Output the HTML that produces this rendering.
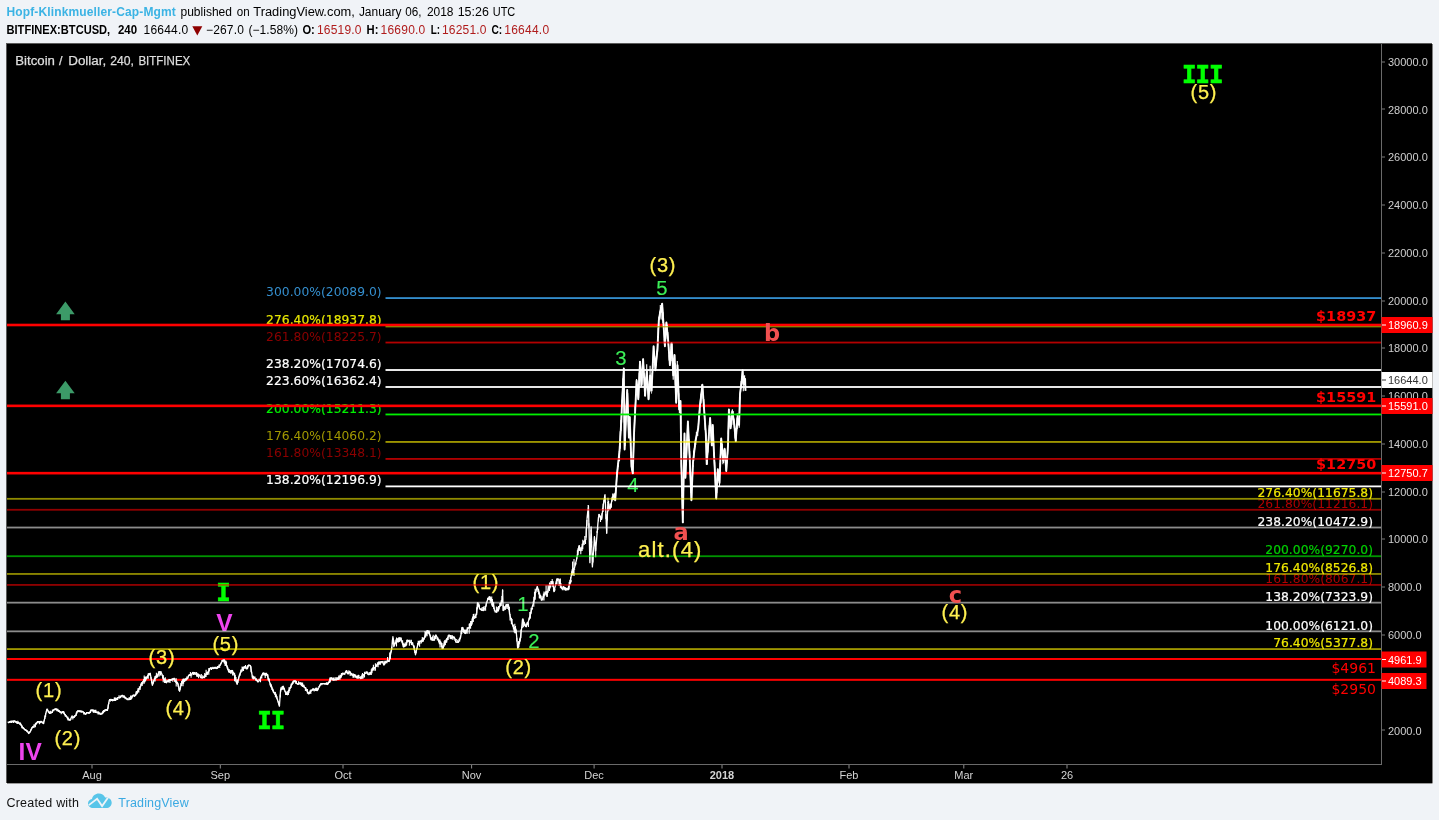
<!DOCTYPE html>
<html lang="en"><head><meta charset="utf-8"><title>BTCUSD chart</title>
<style>
html,body{margin:0;padding:0}
body{width:1439px;height:820px;background:#f0f3f7;position:relative;overflow:hidden;font-family:"Liberation Sans",Arial,sans-serif;color:#000}
svg text{white-space:pre}
</style></head><body>
<svg width="1439" height="820" viewBox="0 0 1439 820" style="position:absolute;left:0;top:0"><rect x="6" y="43" width="1427" height="741" fill="#fff"/><rect x="6" y="43" width="1426" height="740" fill="#5a5a5a"/><rect x="7" y="44" width="1425.5" height="739.4" fill="#000"/><text x="266.1" y="296.2" font-size="12.3" font-family="DejaVu Sans, Verdana, sans-serif" fill="#3590d0" textLength="115.5">300.00%(20089.0)</text><text x="266.1" y="323.7" font-size="12.3" font-family="DejaVu Sans, Verdana, sans-serif" fill="#e6e600" stroke="#e6e600" stroke-width="0.2" textLength="115.5">276.40%(18937.8)</text><text x="266.1" y="340.6" font-size="12.3" font-family="DejaVu Sans, Verdana, sans-serif" fill="#8c0000" textLength="115.5">261.80%(18225.7)</text><text x="266.1" y="368.1" font-size="12.3" font-family="DejaVu Sans, Verdana, sans-serif" fill="#ffffff" stroke="#ffffff" stroke-width="0.2" textLength="115.5">238.20%(17074.6)</text><text x="266.1" y="385.1" font-size="12.3" font-family="DejaVu Sans, Verdana, sans-serif" fill="#ffffff" stroke="#ffffff" stroke-width="0.2" textLength="115.5">223.60%(16362.4)</text><text x="266.1" y="412.6" font-size="12.3" font-family="DejaVu Sans, Verdana, sans-serif" fill="#00f000" stroke="#00f000" stroke-width="0.2" textLength="115.5">200.00%(15211.3)</text><text x="266.1" y="440.0" font-size="12.3" font-family="DejaVu Sans, Verdana, sans-serif" fill="#a39a00" textLength="115.5">176.40%(14060.2)</text><text x="266.1" y="457.0" font-size="12.3" font-family="DejaVu Sans, Verdana, sans-serif" fill="#8c0000" textLength="115.5">161.80%(13348.1)</text><text x="266.1" y="483.7" font-size="12.3" font-family="DejaVu Sans, Verdana, sans-serif" fill="#ffffff" stroke="#ffffff" stroke-width="0.2" textLength="115.5">138.20%(12196.9)</text><text x="1257.5" y="497.0" font-size="12.3" font-family="DejaVu Sans, Verdana, sans-serif" fill="#f0e800" stroke="#f0e800" stroke-width="0.2" textLength="115.5">276.40%(11675.8)</text><text x="1257.5" y="508.0" font-size="12.3" font-family="DejaVu Sans, Verdana, sans-serif" fill="#b00000" textLength="115.5">261.80%(11216.1)</text><text x="1257.5" y="525.7" font-size="12.3" font-family="DejaVu Sans, Verdana, sans-serif" fill="#ffffff" stroke="#ffffff" stroke-width="0.2" textLength="115.5">238.20%(10472.9)</text><text x="1265.3" y="554.4" font-size="12.3" font-family="DejaVu Sans, Verdana, sans-serif" fill="#00d000" stroke="#00d000" stroke-width="0.2" textLength="107.7">200.00%(9270.0)</text><text x="1265.3" y="572.1" font-size="12.3" font-family="DejaVu Sans, Verdana, sans-serif" fill="#f0e800" stroke="#f0e800" stroke-width="0.2" textLength="107.7">176.40%(8526.8)</text><text x="1265.3" y="583.1" font-size="12.3" font-family="DejaVu Sans, Verdana, sans-serif" fill="#b00000" textLength="107.7">161.80%(8067.1)</text><text x="1265.3" y="600.8" font-size="12.3" font-family="DejaVu Sans, Verdana, sans-serif" fill="#ffffff" stroke="#ffffff" stroke-width="0.2" textLength="107.7">138.20%(7323.9)</text><text x="1265.3" y="629.5" font-size="12.3" font-family="DejaVu Sans, Verdana, sans-serif" fill="#ffffff" stroke="#ffffff" stroke-width="0.2" textLength="107.7">100.00%(6121.0)</text><text x="1273.2" y="647.3" font-size="12.3" font-family="DejaVu Sans, Verdana, sans-serif" fill="#f0e800" stroke="#f0e800" stroke-width="0.2" textLength="99.8">76.40%(5377.8)</text><rect x="7" y="323.70" width="1374" height="2.6" fill="#ff0000"/><rect x="7" y="404.55" width="1374" height="2.6" fill="#ff0000"/><rect x="7" y="471.87" width="1374" height="2.6" fill="#ff0000"/><rect x="7" y="658.00" width="1374" height="2" fill="#ff0000"/><rect x="7" y="678.82" width="1374" height="2" fill="#ff0000"/><polyline points="8.2,722.8 10.5,721.6 12.8,721.4 14.8,720.9 16.8,722.8 18.8,722.8 20.5,723.6 22.2,726.9 23.9,728.8 25.5,730.0 27.1,730.8 28.7,733.5 30.5,731.1 32.3,727.4 34.1,726.2 35.8,724.5 37.6,721.9 39.3,721.6 41.4,721.4 43.5,723.6 45.2,716.1 46.9,709.1 49.5,713.4 51.6,712.5 53.8,709.6 55.7,708.8 57.6,709.6 59.4,711.3 61.3,712.7 63.2,711.7 64.9,714.5 66.6,716.5 68.3,719.4 70.0,720.2 71.7,716.9 73.4,717.7 75.6,715.4 77.7,710.8 79.6,711.0 81.6,711.4 83.5,712.2 85.4,714.3 87.3,712.6 89.2,713.1 91.1,710.1 93.0,710.0 94.9,711.3 96.8,712.6 98.8,712.8 100.7,714.3 102.4,713.4 104.1,710.8 105.8,709.7 107.5,710.0 109.2,700.6 110.9,699.3 112.7,700.8 114.4,699.7 116.1,699.7 118.1,697.6 120.0,697.2 122.0,695.5 123.7,696.7 125.5,697.6 127.2,699.7 129.1,699.7 131.1,698.3 133.0,695.6 134.9,695.5 136.6,692.8 138.3,689.6 140.0,688.0 141.7,683.5 144.2,680.1 146.2,678.8 148.2,674.7 150.2,673.3 152.4,685.2 155.3,676.7 157.4,676.2 159.6,671.6 161.3,672.7 163.0,676.8 164.7,681.0 166.4,682.7 168.4,680.1 170.4,680.4 172.4,679.3 174.1,678.5 175.8,682.3 177.5,682.7 179.6,691.2 181.8,681.8 183.7,681.3 185.5,679.0 187.4,678.7 189.2,674.7 191.1,674.8 192.9,672.4 194.8,673.5 196.6,674.2 198.4,674.4 200.3,676.7 202.2,677.9 204.0,676.7 205.9,674.5 207.8,673.2 209.8,668.4 211.7,668.2 213.4,668.5 215.0,667.6 216.7,668.5 218.3,667.1 220.0,665.0 222.1,661.4 224.2,659.9 226.3,664.7 228.5,670.5 230.2,672.2 232.0,670.4 233.7,673.4 235.4,678.6 237.1,684.2 239.2,676.1 241.3,670.8 243.1,668.1 244.9,666.8 246.8,668.9 248.6,665.0 250.4,665.7 252.4,676.8 254.2,677.4 256.1,679.8 257.9,681.9 259.9,680.0 261.8,675.1 263.5,673.0 265.2,674.3 266.9,674.3 269.0,680.5 271.2,686.2 272.9,690.8 274.6,693.7 276.3,695.6 279.4,706.2 280.6,689.6 283.2,686.2 285.3,691.8 287.4,694.7 289.4,689.3 291.4,685.3 293.4,681.1 295.1,680.9 296.8,683.5 298.5,684.2 300.2,682.8 301.9,683.6 303.6,686.0 305.4,688.4 307.1,690.7 308.8,693.9 310.9,691.3 313.0,688.8 315.1,690.0 317.3,690.5 319.0,687.3 320.7,683.9 322.4,683.6 324.1,683.6 325.8,683.7 327.5,684.5 329.2,681.4 331.0,677.7 333.0,680.2 334.9,679.6 336.9,679.4 338.9,677.5 340.9,675.9 342.9,673.4 344.6,673.7 346.3,670.6 348.0,673.9 349.7,671.7 351.4,674.0 353.2,675.6 354.9,675.1 356.9,677.5 358.8,676.9 360.8,678.5 363.0,675.5 365.1,673.4 366.8,672.0 368.5,674.6 370.2,674.3 371.9,670.4 373.6,668.4 375.4,667.0 377.1,664.8 378.8,663.6 380.5,662.3 382.2,661.5 383.9,664.9 385.6,661.5 387.3,661.0 389.0,661.5 391.6,649.5 392.9,636.7 394.1,646.1 395.8,642.1 397.5,641.5 399.2,637.8 400.9,638.4 403.5,646.9 405.6,645.5 407.8,640.1 409.8,642.7 411.7,642.3 413.7,646.1 415.5,654.6 418.0,643.5 419.7,641.4 421.4,641.0 423.1,641.0 425.2,635.1 427.4,630.7 429.1,631.8 430.8,638.9 432.5,640.1 434.2,640.2 435.9,635.0 437.6,638.2 439.4,641.7 441.1,643.1 442.8,648.6 444.4,643.2 446.1,641.1 447.8,637.3 449.4,635.2 451.1,638.7 452.8,636.8 454.5,637.8 456.2,642.0 458.4,642.3 460.5,637.8 462.2,627.5 463.9,630.7 465.6,633.5 467.6,628.4 469.6,627.5 471.6,624.1 473.3,617.6 475.0,616.9 476.7,613.0 477.6,602.8 479.6,608.4 481.5,610.2 483.5,610.5 485.5,607.2 487.5,599.8 489.5,596.8 491.2,599.8 492.9,602.4 494.6,610.1 496.3,612.2 498.3,608.1 500.3,605.5 502.3,599.4 502.6,590.0 503.2,610.5 504.9,607.4 506.6,604.7 508.3,604.5 510.0,615.4 511.7,622.4 513.9,628.6 516.0,629.2 517.7,648.0 520.2,639.5 522.8,619.0 524.5,624.9 526.2,626.7 528.2,621.9 530.2,615.5 532.2,607.0 533.9,601.8 535.6,591.6 537.3,586.6 539.5,593.5 541.6,600.2 543.6,596.7 545.5,591.9 547.5,592.5 549.2,585.6 551.0,583.6 552.7,581.4 554.0,591.7 556.9,578.9 558.6,579.4 560.3,584.7 562.1,588.7 563.8,587.4 565.5,590.0 567.2,589.6 568.9,586.6 570.6,579.7 572.3,569.5 574.5,567.9 576.6,559.3 579.1,545.6 580.8,550.7 582.5,545.9 584.2,541.0 585.9,539.6 587.1,517.8 588.4,505.8 589.9,562.7 591.1,526.8 592.4,566.9 594.5,537.1 595.7,550.7 597.9,523.4 599.0,514.4 601.6,519.5 603.3,504.6 605.0,494.7 606.7,533.1 607.9,502.4 610.1,509.2 612.2,498.7 614.4,493.9 615.2,500.7 616.9,475.1 619.5,451.2 621.2,422.2 622.1,401.0 623.8,368.5 624.6,449.5 626.3,410.2 627.2,389.9 628.9,437.6 629.7,417.1 631.5,466.6 632.8,473.4 634.0,434.1 635.7,400.0 636.6,380.5 638.3,399.2 640.0,361.7 641.4,385.6 643.1,359.1 645.1,395.8 646.8,370.2 648.5,399.2 650.2,375.4 651.6,390.7 653.6,346.3 655.4,370.2 657.4,349.7 658.8,320.7 660.1,312.2 662.2,303.7 663.5,324.1 664.9,346.3 666.4,322.4 668.2,341.2 669.9,365.1 671.6,342.9 673.3,375.4 674.5,354.9 676.2,402.7 677.5,365.1 679.2,409.5 680.5,401.0 681.3,462.4 682.8,522.4 684.5,433.4 685.4,477.8 687.9,421.5 689.6,455.6 691.4,500.2 693.0,462.4 695.6,440.2 698.2,428.3 699.9,406.1 702.4,384.8 704.1,409.5 705.8,433.4 706.7,464.1 708.4,441.9 710.1,418.0 711.8,445.4 712.7,424.9 714.4,462.4 716.3,498.5 717.8,469.2 719.5,482.9 721.2,438.5 723.3,460.7 724.6,448.8 726.3,471.0 728.0,445.4 728.9,409.5 730.6,428.3 732.3,411.2 734.0,421.5 735.7,441.1 737.4,418.0 739.1,424.9 740.0,394.1 741.7,380.5 742.6,370.2 743.4,383.9 745.1,378.8 745.5,390.7" fill="none" stroke="#fff" stroke-width="1.3" stroke-linejoin="round"/><path d="M8.2 721.4V723.1M8.9 721.7V723.1M9.6 721.1V722.1M10.2 721.1V722.6M10.9 720.6V723.1M11.6 720.6V723.1M12.3 720.6V721.8M13.0 720.6V722.7M13.6 720.6V723.1M14.3 720.6V721.7M15.0 720.8V722.6M15.7 720.9V722.7M16.4 720.9V723.1M17.0 721.9V723.8M17.7 720.8V723.9M18.4 721.4V723.7M19.1 722.4V723.4M19.8 723.6V725.0M20.4 722.5V724.6M21.1 724.4V726.0M21.8 725.1V728.2M22.5 726.2V728.3M23.2 726.9V728.9M23.8 727.7V729.3M24.5 728.4V729.8M25.2 729.2V730.9M25.9 729.0V730.5M26.6 729.9V731.8M27.2 730.5V732.3M27.9 731.1V732.4M28.6 733.0V734.0M29.3 732.2V733.3M30.0 731.0V732.8M30.6 729.6V730.9M31.3 728.4V729.8M32.0 726.9V728.2M32.7 726.3V728.0M33.4 725.7V727.1M34.0 724.3V727.9M34.7 724.5V725.6M35.4 722.7V727.2M36.1 722.7V724.5M36.8 722.1V723.2M37.4 721.1V723.3M38.1 721.1V722.1M38.8 721.3V723.3M39.5 721.1V724.2M40.2 721.1V723.1M40.8 721.2V723.3M41.5 720.9V722.5M42.2 721.5V722.7M42.9 722.2V723.8M43.6 721.3V723.9M44.2 719.7V721.3M44.9 715.4V719.0M45.6 713.0V717.1M46.3 711.4V712.6M47.0 708.9V710.5M47.6 708.7V709.7M48.3 710.6V712.6M49.0 711.1V713.0M49.7 712.1V713.7M50.4 710.8V713.7M51.0 712.7V713.7M51.7 711.8V712.9M52.4 709.5V712.9M53.1 709.9V710.9M53.8 709.9V711.2M54.4 709.0V710.2M55.1 708.5V709.8M55.8 708.5V710.2M56.5 708.5V710.8M57.2 708.7V711.6M57.8 708.7V710.9M58.5 709.9V712.1M59.2 710.1V711.9M59.9 711.3V713.0M60.6 711.3V712.6M61.2 712.3V714.3M61.9 711.6V713.3M62.6 711.3V712.9M63.3 711.0V713.5M64.0 711.4V714.2M64.6 713.6V715.2M65.3 714.1V716.7M66.0 714.9V716.8M66.7 716.0V717.5M67.4 716.7V719.2M68.0 716.8V720.5M68.7 718.0V720.5M69.4 718.9V720.5M70.1 719.7V720.7M70.8 718.8V720.1M71.4 716.5V717.8M72.1 715.2V716.9M72.8 716.5V719.6M73.5 716.2V718.1M74.2 715.8V718.0M74.8 714.9V716.0M75.5 715.2V716.4M76.2 712.6V716.1M76.9 711.0V713.5M77.6 710.5V711.8M78.2 710.5V711.8M78.9 710.5V712.2M79.6 710.5V712.0M80.3 710.5V712.5M81.0 710.5V712.3M81.6 710.7V712.8M82.3 710.8V712.1M83.0 710.9V712.4M83.7 712.6V714.6M84.4 712.1V713.5M85.0 713.6V714.6M85.7 713.5V714.5M86.4 711.9V714.3M87.1 712.0V713.0M87.8 712.2V713.2M88.4 712.0V713.8M89.1 712.3V713.7M89.8 712.0V713.2M90.5 709.7V712.9M91.2 709.4V710.4M91.8 709.7V711.4M92.5 709.7V711.6M93.2 709.7V712.6M93.9 709.7V712.9M94.6 710.3V711.7M95.2 709.8V713.1M95.9 709.8V713.1M96.6 711.5V713.1M97.3 711.4V712.7M98.0 711.2V714.6M98.6 711.5V714.6M99.3 712.4V714.6M100.0 712.5V714.6M100.7 713.8V714.8M101.4 713.0V714.6M102.0 712.3V714.6M102.7 710.9V713.9M103.4 710.1V713.1M104.1 711.2V712.2M104.8 709.4V712.0M105.4 709.2V710.2M106.1 709.3V711.1M106.8 709.0V710.8M107.5 707.8V711.1M108.2 704.4V708.8M108.8 702.5V703.9M109.5 699.0V701.3M110.2 699.0V701.8M110.9 699.0V700.4M111.6 699.4V701.0M112.2 699.0V701.1M112.9 699.0V701.1M113.6 699.8V700.9M114.3 697.4V701.1M115.0 697.3V701.1M115.6 697.7V701.1M116.3 698.0V699.6M117.0 697.5V700.0M117.7 696.9V700.0M118.4 697.1V698.3M119.0 695.3V697.4M119.7 697.2V698.7M120.4 695.5V697.9M121.1 695.9V697.5M121.8 695.2V696.2M122.4 694.7V695.7M123.1 695.2V697.9M123.8 695.2V696.2M124.5 695.6V698.3M125.2 696.7V699.3M125.8 697.6V698.6M126.5 697.7V698.8M127.2 698.5V700.0M127.9 698.1V700.0M128.6 699.1V700.1M129.2 696.9V700.0M129.9 697.8V700.0M130.6 695.4V700.0M131.3 696.2V699.5M132.0 695.2V698.6M132.6 695.2V696.7M133.3 694.2V696.1M134.0 695.2V696.5M134.7 694.4V697.1M135.4 694.3V695.9M136.0 691.6V695.6M136.7 691.1V694.4M137.4 691.3V693.8M138.1 688.1V692.6M138.8 688.4V692.6M139.4 686.3V688.6M140.1 687.5V689.9M140.8 683.6V686.0M141.5 682.3V685.1M142.2 682.9V685.9M142.8 680.9V684.2M143.5 679.2V682.2M144.2 675.5V683.8M144.9 677.0V682.2M145.6 676.6V681.2M146.2 677.3V679.4M146.9 676.2V678.9M147.6 675.2V678.1M148.3 673.0V678.7M149.0 674.5V675.5M149.6 673.0V675.3M150.3 673.3V675.8M151.0 677.0V679.2M151.7 678.9V683.6M152.4 683.9V685.5M153.0 681.4V684.0M153.7 679.9V681.4M154.4 678.3V680.1M155.1 675.9V681.4M155.8 675.5V679.0M156.4 672.7V678.1M157.1 674.7V678.1M157.8 673.4V677.0M158.5 671.3V674.0M159.2 671.3V676.6M159.8 671.4V672.5M160.5 671.3V675.5M161.2 671.3V672.5M161.9 674.4V675.4M162.6 675.3V678.8M163.2 675.0V682.3M163.9 677.9V680.3M164.6 679.3V683.0M165.3 677.2V683.0M166.0 679.5V683.0M166.6 680.4V683.0M167.3 680.7V682.0M168.0 679.8V682.3M168.7 679.6V682.6M169.4 679.0V681.4M170.0 679.0V682.9M170.7 678.9V680.7M171.4 679.4V680.7M172.1 678.2V680.1M172.8 678.2V681.8M173.4 678.9V680.0M174.1 677.7V678.7M174.8 678.2V682.0M175.5 680.4V681.7M176.2 678.3V686.5M176.8 680.7V684.0M177.5 682.9V684.3M178.2 683.4V687.0M178.9 685.8V690.7M179.6 690.5V691.5M180.2 688.3V689.8M180.9 683.1V686.1M181.6 681.0V686.0M182.3 679.4V683.8M183.0 678.7V686.2M183.6 678.4V683.8M184.3 679.0V682.1M185.0 678.4V681.4M185.7 678.8V680.8M186.4 677.6V680.5M187.0 676.2V679.4M187.7 677.5V679.1M188.4 674.9V677.2M189.1 674.8V676.1M189.8 674.3V675.7M190.4 672.1V676.0M191.1 673.5V677.8M191.8 674.6V675.6M192.5 672.1V674.1M193.2 672.2V675.1M193.8 673.1V675.1M194.5 672.1V674.4M195.2 672.1V674.7M195.9 673.8V674.8M196.6 672.1V676.6M197.2 673.2V677.0M197.9 673.2V676.4M198.6 673.9V678.2M199.3 674.5V675.9M200.0 674.8V676.3M200.6 676.4V678.2M201.3 674.1V678.2M202.0 677.5V678.5M202.7 675.2V678.2M203.4 676.7V677.9M204.0 676.4V678.2M204.7 672.9V678.2M205.4 674.3V677.0M206.1 669.7V677.0M206.8 672.1V674.8M207.4 671.5V675.1M208.1 671.8V673.1M208.8 667.9V674.8M209.5 667.9V671.2M210.2 668.3V669.6M210.8 667.1V668.1M211.5 668.0V670.0M212.2 667.3V668.8M212.9 666.7V667.7M213.6 667.3V668.8M214.2 667.3V668.8M214.9 666.8V668.8M215.6 666.8V668.8M216.3 666.8V668.8M217.0 667.7V668.8M217.6 666.0V668.8M218.3 666.7V668.0M219.0 664.6V666.5M219.7 666.2V668.1M220.4 664.5V665.7M221.0 662.7V664.5M221.7 660.2V661.3M222.4 659.7V661.5M223.1 659.6V661.4M223.8 659.6V662.6M224.4 659.6V663.8M225.1 660.4V665.9M225.8 660.5V665.8M226.5 661.6V666.5M227.2 665.4V668.8M227.8 667.3V670.2M228.5 669.4V672.5M229.2 668.9V672.5M229.9 671.9V672.9M230.6 670.1V673.7M231.2 670.1V673.7M231.9 670.1V672.7M232.6 670.1V675.4M233.3 672.1V673.6M234.0 672.8V675.3M234.6 672.8V681.3M235.3 674.7V679.1M236.0 677.0V682.2M236.7 681.5V683.2M237.4 679.6V684.5M238.0 679.6V683.1M238.7 676.4V678.8M239.4 674.2V676.4M240.1 672.4V675.7M240.8 669.4V673.1M241.4 669.9V671.4M242.1 666.5V671.7M242.8 667.0V670.6M243.5 666.5V671.1M244.2 666.5V667.7M244.8 666.0V669.0M245.5 665.1V667.6M246.2 667.7V669.2M246.9 666.3V669.2M247.6 665.2V669.0M248.2 665.5V667.4M248.9 664.7V665.7M249.6 664.7V666.1M250.3 665.9V667.0M251.0 666.3V672.2M251.6 671.9V673.3M252.3 675.6V678.4M253.0 675.5V679.2M253.7 676.3V679.5M254.4 677.0V678.4M255.0 676.5V678.6M255.7 678.7V680.4M256.4 678.2V681.1M257.1 680.0V681.1M257.8 679.4V682.2M258.4 680.9V682.2M259.1 678.8V680.1M259.8 679.9V681.3M260.5 676.7V682.2M261.2 676.8V678.3M261.8 675.1V678.4M262.5 672.7V675.6M263.2 672.7V674.8M263.9 672.7V675.4M264.6 672.7V675.4M265.2 672.7V678.1M265.9 673.1V676.0M266.6 672.7V675.2M267.3 674.1V676.1M268.0 674.4V680.3M268.6 678.7V680.2M269.3 678.6V681.5M270.0 683.2V685.4M270.7 683.7V687.3M271.4 684.6V686.8M272.0 686.4V690.0M272.7 688.5V690.9M273.4 689.6V692.9M274.1 692.1V693.3M274.8 691.8V694.8M275.4 692.1V697.3M276.1 693.7V697.4M276.8 695.9V699.3M277.5 699.0V700.8M278.2 701.0V702.4M278.8 702.7V704.6M279.5 704.4V706.2M280.2 694.5V697.5M280.9 687.3V691.4M281.6 688.1V690.1M282.2 685.9V689.1M282.9 685.9V690.0M283.6 687.8V688.9M284.3 688.0V690.6M285.0 691.0V692.3M285.6 692.4V694.9M286.3 691.4V695.0M287.0 693.7V695.0M287.7 691.1V695.0M288.4 690.1V695.0M289.0 687.2V693.0M289.7 687.4V690.9M290.4 686.8V688.7M291.1 683.8V688.0M291.8 683.6V685.3M292.4 682.0V684.6M293.1 681.3V684.0M293.8 680.6V682.4M294.5 680.6V682.3M295.2 680.3V681.3M295.8 680.6V683.9M296.5 681.1V683.3M297.2 683.0V684.5M297.9 683.9V684.9M298.6 681.2V684.5M299.2 682.5V684.5M299.9 682.5V683.6M300.6 682.5V685.1M301.3 682.5V686.3M302.0 683.7V686.2M302.6 682.5V687.1M303.3 685.8V687.1M304.0 684.7V687.7M304.7 687.1V688.1M305.4 687.0V691.0M306.0 687.4V689.8M306.7 689.6V691.4M307.4 689.0V693.8M308.1 692.1V693.1M308.8 692.7V694.2M309.4 691.6V694.0M310.1 690.2V692.9M310.8 689.4V693.9M311.5 689.6V690.9M312.2 689.4V691.1M312.8 688.5V690.1M313.5 688.5V690.8M314.2 688.5V691.4M314.9 689.1V690.5M315.6 687.7V690.8M316.2 687.7V690.8M316.9 687.4V690.5M317.6 688.4V690.8M318.3 688.1V689.5M319.0 685.9V687.5M319.6 685.1V687.0M320.3 684.0V685.4M321.0 683.1V684.1M321.7 683.3V685.3M322.4 683.3V684.5M323.0 683.3V684.3M323.7 683.3V684.3M324.4 683.3V684.4M325.1 683.3V684.8M325.8 683.0V684.3M326.4 682.2V684.8M327.1 682.2V684.2M327.8 682.7V684.3M328.5 682.0V684.3M329.2 681.3V683.0M329.8 677.4V682.9M330.5 677.4V681.8M331.2 677.4V680.2M331.9 677.4V679.1M332.6 678.4V679.7M333.2 677.4V680.5M333.9 677.4V680.5M334.6 679.6V680.6M335.3 677.2V680.5M336.0 679.3V680.5M336.6 677.2V680.5M337.3 677.3V679.9M338.0 677.6V679.9M338.7 675.6V679.9M339.4 677.2V678.7M340.0 674.7V679.7M340.7 674.8V678.3M341.4 673.1V677.6M342.1 673.1V675.7M342.8 672.4V674.3M343.4 672.9V674.8M344.1 673.4V674.6M344.8 672.9V675.1M345.5 671.4V673.0M346.2 670.9V673.2M346.8 670.3V673.2M347.5 671.8V674.0M348.2 671.7V674.3M348.9 670.3V674.3M349.6 671.2V673.0M350.2 671.4V675.9M350.9 672.9V674.5M351.6 673.1V675.5M352.3 675.0V676.0M353.0 673.3V677.8M353.6 673.7V677.8M354.3 674.0V676.4M355.0 674.3V677.8M355.7 674.8V677.8M356.4 676.1V677.4M357.0 675.7V678.8M357.7 675.2V678.8M358.4 674.8V678.8M359.1 675.2V676.2M359.8 676.8V678.3M360.4 676.2V678.8M361.1 676.3V678.8M361.8 674.6V678.8M362.5 673.1V678.8M363.2 674.5V678.5M363.8 674.1V675.2M364.5 671.7V677.4M365.2 672.9V673.9M365.9 671.6V672.6M366.6 671.7V673.8M367.2 671.6V672.6M367.9 672.4V674.9M368.6 674.0V675.0M369.3 671.9V674.9M370.0 673.5V674.5M370.6 672.1V674.1M371.3 669.2V674.9M372.0 667.9V673.3M372.7 667.2V670.8M373.4 664.8V670.0M374.0 667.3V670.7M374.7 667.4V668.7M375.4 663.3V670.7M376.1 664.7V665.7M376.8 664.3V666.9M377.4 662.5V664.5M378.1 662.0V667.3M378.8 661.3V664.8M379.5 661.4V664.2M380.2 661.2V665.1M380.8 661.2V663.7M381.5 661.2V662.2M382.2 661.1V662.1M382.9 661.2V662.5M383.6 662.7V665.2M384.2 660.8V665.2M384.9 661.8V664.4M385.6 660.7V663.4M386.3 660.7V663.2M387.0 660.7V663.3M387.6 657.1V661.8M388.3 660.0V661.8M389.0 661.0V662.0M389.7 652.5V660.4M390.4 652.3V659.0M391.0 650.5V652.5M391.7 646.8V649.2M392.4 639.5V644.3M393.1 638.2V640.1M393.8 640.3V647.3M394.4 643.4V644.4M395.1 642.4V643.9M395.8 639.5V643.0M396.5 637.5V646.4M397.2 638.8V642.1M397.8 638.1V642.4M398.5 637.5V642.4M399.2 637.5V642.1M399.9 637.5V641.8M400.6 637.5V640.8M401.2 637.6V639.7M401.9 640.2V642.6M402.6 640.2V644.6M403.3 642.7V647.2M404.0 644.0V647.2M404.6 643.6V646.1M405.3 642.3V646.5M406.0 644.1V646.2M406.7 639.8V645.3M407.4 639.8V642.3M408.0 640.1V641.3M408.7 639.9V641.6M409.4 639.8V645.8M410.1 641.6V642.8M410.8 639.8V643.0M411.4 639.8V645.0M412.1 642.0V645.2M412.8 642.6V644.1M413.5 645.4V647.3M414.2 645.6V650.2M414.8 650.1V653.0M415.5 654.3V655.3M416.2 651.2V653.2M416.9 647.7V649.0M417.6 643.0V646.1M418.2 640.7V645.2M418.9 640.7V644.2M419.6 640.7V646.7M420.3 640.5V641.5M421.0 640.7V643.8M421.6 639.6V642.7M422.3 637.1V641.7M423.0 638.0V641.7M423.7 637.7V639.8M424.4 637.6V639.4M425.0 630.9V637.9M425.7 631.9V637.3M426.4 630.4V635.5M427.1 630.4V636.3M427.8 630.4V633.5M428.4 630.4V633.8M429.1 630.4V634.6M429.8 634.1V635.4M430.5 635.2V639.5M431.2 636.9V640.5M431.8 637.8V639.3M432.5 636.3V640.5M433.2 634.7V640.5M433.9 639.3V640.5M434.6 635.7V640.5M435.2 635.5V638.8M435.9 634.7V638.9M436.6 635.9V637.0M437.3 637.6V640.5M438.0 637.4V640.4M438.6 639.1V642.4M439.3 639.5V644.2M440.0 639.4V647.6M440.7 641.2V644.6M441.4 642.8V647.3M442.0 643.1V648.9M442.7 647.1V648.9M443.4 645.4V648.6M444.1 641.2V646.8M444.8 640.1V645.4M445.4 640.6V645.1M446.1 639.0V642.9M446.8 637.9V642.6M447.5 637.7V640.3M448.2 635.1V640.0M448.8 634.5V635.5M449.5 634.9V636.2M450.2 635.0V639.0M450.9 635.1V638.5M451.6 636.5V639.0M452.2 634.9V638.2M452.9 636.3V640.1M453.6 636.5V638.0M454.3 636.5V638.9M455.0 638.5V641.0M455.6 641.0V642.6M456.3 638.9V640.8M457.0 642.1V643.1M457.7 639.8V642.6M458.4 640.9V642.6M459.0 638.7V640.5M459.7 637.6V641.4M460.4 635.6V638.4M461.1 630.6V634.2M461.8 627.2V634.1M462.4 627.2V628.9M463.1 627.2V632.1M463.8 631.1V633.1M464.5 629.5V633.8M465.2 630.2V633.8M465.8 629.5V633.7M466.5 630.1V632.3M467.2 627.2V633.8M467.9 627.2V628.6M468.6 627.2V628.6M469.2 623.8V633.8M469.9 623.1V628.2M470.6 621.1V628.7M471.3 620.9V626.0M472.0 618.4V624.5M472.6 616.6V621.2M473.3 614.1V622.0M474.0 613.8V616.9M474.7 616.2V619.0M475.4 616.6V617.9M476.0 613.7V617.9M476.7 607.3V615.1M477.4 602.5V609.2M478.1 602.5V606.8M478.8 603.6V606.7M479.4 604.4V608.4M480.1 608.5V610.1M480.8 608.4V610.0M481.5 608.2V610.8M482.2 606.9V610.8M482.8 609.6V610.8M483.5 606.5V610.8M484.2 609.4V610.8M484.9 606.0V607.8M485.6 605.7V610.8M486.2 602.7V606.6M486.9 601.6V602.6M487.6 597.7V601.1M488.3 598.5V599.9M489.0 596.6V599.6M489.6 598.2V600.2M490.3 596.5V602.7M491.0 598.3V600.9M491.7 596.5V605.5M492.4 599.0V606.7M493.0 602.2V607.0M493.7 602.5V609.0M494.4 608.7V611.3M495.1 611.2V612.5M495.8 611.2V612.3M496.4 606.4V612.5M497.1 609.9V612.5M497.8 607.0V611.1M498.5 606.1V611.6M499.2 606.7V609.5M499.8 603.1V606.6M500.5 602.7V606.3M501.2 600.2V606.0M501.9 596.1V603.0M502.6 589.7V591.9M503.2 604.7V610.8M503.9 605.9V610.8M504.6 606.5V609.2M505.3 607.6V609.9M506.0 604.2V608.8M506.6 604.2V606.8M507.3 604.2V609.1M508.0 604.2V607.1M508.7 605.8V610.0M509.4 607.0V614.2M510.0 614.1V620.4M510.7 617.7V619.0M511.4 618.1V624.0M512.1 619.0V624.4M512.8 624.8V626.6M513.4 624.4V629.5M514.1 627.0V632.3M514.8 623.7V633.3M515.5 626.0V633.3M516.2 630.3V633.4M516.8 637.8V641.5M517.5 644.4V648.0M518.2 641.2V648.3M518.9 640.9V647.3M519.6 638.6V643.7M520.2 637.4V641.4M520.9 629.5V638.2M521.6 627.3V628.7M522.3 619.6V628.0M523.0 618.7V623.3M523.6 620.4V627.3M524.3 622.1V623.8M525.0 623.5V626.1M525.7 624.6V627.0M526.4 623.4V627.0M527.0 622.2V625.0M527.7 621.8V623.1M528.4 622.4V627.0M529.1 617.4V620.0M529.8 611.9V619.1M530.4 612.2V618.6M531.1 607.8V613.7M531.8 608.4V609.6M532.5 607.9V609.5M533.2 601.6V603.2M533.8 596.7V606.8M534.5 591.7V598.6M535.2 588.7V599.8M535.9 590.8V592.8M536.6 588.7V590.6M537.2 586.3V588.6M537.9 588.7V591.9M538.6 589.1V594.6M539.3 593.4V598.3M540.0 594.9V598.8M540.6 595.3V598.0M541.3 599.3V600.5M542.0 595.7V599.7M542.7 598.6V600.5M543.4 593.6V598.2M544.0 591.6V600.5M544.7 594.3V595.5M545.4 592.3V594.3M546.1 585.3V595.6M546.8 591.0V597.0M547.4 592.9V596.7M548.1 585.1V592.8M548.8 587.2V588.4M549.5 582.4V591.1M550.2 584.4V588.6M550.8 581.1V587.3M551.5 581.1V584.8M552.2 579.0V584.0M552.9 581.2V586.9M553.6 586.4V591.1M554.2 588.2V592.0M554.9 589.0V590.8M555.6 583.5V586.0M556.3 581.2V584.0M557.0 578.7V584.6M557.6 578.6V581.3M558.3 578.6V579.6M559.0 580.2V586.1M559.7 578.7V584.4M560.4 578.6V588.3M561.0 583.3V585.4M561.7 586.5V589.0M562.4 588.5V590.3M563.1 586.2V588.2M563.8 586.1V590.3M564.4 587.1V589.1M565.1 587.1V590.3M565.8 587.5V590.3M566.5 587.9V589.2M567.2 588.9V590.3M567.8 588.3V589.6M568.5 585.8V590.3M569.2 582.1V589.4M569.9 579.7V585.0M570.6 577.1V583.5M571.2 580.1V582.3M571.9 571.3V573.5M572.6 561.5V575.4M573.3 568.8V573.4M574.0 559.0V575.9M574.6 568.8V569.8M575.3 562.5V565.6M576.0 563.3V564.4M576.7 557.4V558.9M577.4 550.2V555.3M578.0 548.2V555.2M578.7 546.5V549.8M579.4 545.3V551.0M580.1 547.3V550.1M580.8 549.8V554.2M581.4 547.4V548.5M582.1 543.7V551.0M582.8 539.7V549.3M583.5 541.0V543.7M584.2 540.8V545.1M584.8 536.1V541.5M585.5 540.0V544.1M586.2 528.2V537.6M586.9 520.0V525.7M587.6 515.5V517.7M588.2 505.1V506.1M588.9 523.3V527.6M589.6 549.4V554.4M590.3 549.5V554.4M591.0 530.2V531.5M591.6 541.3V543.0M592.3 563.3V564.5M593.0 553.3V562.5M593.7 547.4V551.5M594.4 535.9V541.7M595.0 541.8V544.6M595.7 547.8V557.3M596.4 539.9V541.1M597.1 530.9V533.1M597.8 527.2V530.0M598.4 516.9V521.3M599.1 514.1V517.2M599.8 515.0V517.2M600.5 516.1V522.0M601.2 517.7V519.7M601.8 513.3V518.5M602.5 508.1V510.4M603.2 503.8V511.7M603.9 499.7V502.5M604.6 495.6V501.4M605.2 498.4V499.5M605.9 514.0V518.9M606.6 528.8V533.4M607.3 517.1V520.4M608.0 497.8V503.1M608.6 501.0V511.2M609.3 506.5V509.7M610.0 503.4V509.5M610.7 504.0V505.9M611.4 503.1V507.7M612.0 496.8V501.5M612.7 493.6V500.0M613.4 497.6V499.9M614.1 493.6V500.3M614.8 495.9V498.5M615.4 492.1V494.7M616.1 486.5V489.3M616.8 472.0V477.2M617.5 465.0V471.9M618.2 463.1V467.1M618.8 456.4V457.4M619.5 446.3V461.2M620.2 431.2V448.7M620.9 420.0V430.9M621.6 410.9V422.5M622.2 399.4V402.8M622.9 378.3V391.7M623.6 368.2V377.7M624.3 416.5V422.4M625.0 436.4V445.9M625.6 417.1V425.5M626.3 405.7V413.1M627.0 391.7V395.9M627.7 393.3V405.3M628.4 420.2V421.7M629.0 430.4V433.3M629.7 416.2V420.3M630.4 434.7V440.1M631.1 451.8V455.9M631.8 466.1V469.9M632.4 466.3V470.8M633.1 458.0V464.5M633.8 437.5V442.4M634.5 419.5V428.5M635.2 406.2V410.4M635.8 394.1V396.4M636.5 378.9V385.7M637.2 384.3V385.9M637.9 393.5V395.1M638.6 384.1V398.0M639.2 372.8V384.5M639.9 361.0V362.4M640.6 372.9V374.5M641.3 380.8V386.6M642.0 376.8V384.7M642.6 364.5V366.6M643.3 358.8V364.9M644.0 373.0V378.0M644.7 378.2V396.1M645.4 389.0V394.6M646.0 376.8V384.4M646.7 364.3V375.8M647.4 376.0V389.5M648.1 387.5V390.0M648.8 388.2V399.5M649.4 380.9V384.1M650.1 365.8V384.8M650.8 378.4V391.4M651.5 392.2V393.5M652.2 373.1V379.2M652.8 364.1V367.7M653.5 346.0V349.0M654.2 351.5V361.2M654.9 357.8V365.3M655.6 362.9V367.5M656.2 356.3V365.7M656.9 350.6V354.6M657.6 336.1V351.5M658.3 328.1V338.1M659.0 316.7V319.8M659.6 311.7V317.8M660.3 305.0V311.9M661.0 307.0V319.6M661.7 303.4V312.7M662.4 303.4V320.6M663.0 312.2V323.0M663.7 327.0V328.8M664.4 339.0V343.5M665.1 337.6V339.0M665.8 326.8V339.3M666.4 325.1V326.3M667.1 325.1V327.6M667.8 332.1V338.6M668.5 340.5V346.3M669.2 355.2V360.5M669.8 362.5V364.1M670.5 351.8V359.1M671.2 342.7V348.1M671.9 344.0V361.0M672.6 358.0V359.8M673.2 358.8V379.7M673.9 358.4V368.3M674.6 355.3V361.2M675.3 363.3V385.5M676.0 392.3V401.8M676.6 387.3V399.3M677.3 361.0V376.7M678.0 381.5V383.6M678.7 393.3V396.5M679.4 402.9V412.9M680.0 402.2V403.3M680.7 413.6V424.3M681.4 462.8V467.5M682.1 495.1V496.4M682.8 520.9V522.7M683.4 486.2V492.2M684.1 452.5V454.0M684.8 440.3V453.8M685.5 471.1V476.9M686.2 457.1V465.5M686.8 442.7V445.5M687.5 424.6V432.8M688.2 429.3V430.5M688.9 438.9V441.8M689.6 451.1V461.6M690.2 470.6V473.5M690.9 485.5V492.9M691.6 492.2V500.5M692.3 478.1V481.2M693.0 465.2V467.1M693.6 450.5V461.0M694.3 448.3V452.7M695.0 443.2V447.3M695.7 438.6V444.9M696.4 431.9V439.3M697.0 431.9V434.5M697.7 428.8V435.9M698.4 426.1V429.1M699.1 413.3V418.2M699.8 409.3V415.2M700.4 399.3V405.8M701.1 393.8V403.5M701.8 384.5V394.7M702.5 386.6V390.0M703.2 395.8V398.7M703.8 398.9V407.8M704.5 412.0V419.4M705.2 423.0V430.0M705.9 433.4V439.6M706.6 456.8V463.3M707.2 450.0V464.4M707.9 442.8V452.4M708.6 437.3V444.1M709.3 425.2V431.1M710.0 419.6V422.1M710.6 423.9V431.0M711.3 434.9V440.5M712.0 437.5V443.6M712.7 426.3V429.7M713.4 436.7V441.1M714.0 452.3V456.2M714.7 461.5V474.7M715.4 479.6V485.5M716.1 490.6V498.8M716.8 487.4V493.1M717.4 472.4V479.5M718.1 471.8V473.9M718.8 477.4V480.7M719.5 479.1V486.8M720.2 463.1V471.7M720.8 439.8V455.6M721.5 438.2V442.7M722.2 443.9V454.3M722.9 449.9V464.2M723.6 456.5V463.1M724.2 449.6V452.0M724.9 449.4V457.0M725.6 456.6V464.8M726.3 466.7V471.3M727.0 460.4V463.5M727.6 448.8V454.6M728.3 430.2V434.2M729.0 409.2V410.8M729.7 416.0V417.0M730.4 425.3V428.9M731.0 421.6V426.4M731.7 413.2V420.2M732.4 409.2V413.6M733.1 410.9V424.8M733.8 418.7V422.7M734.4 425.1V427.9M735.1 428.0V438.6M735.8 435.2V441.4M736.5 423.7V434.2M737.2 413.6V429.0M737.8 413.5V422.9M738.5 420.8V425.1M739.2 420.4V427.7M739.9 396.5V399.7M740.6 389.7V391.9M741.2 380.9V388.6M741.9 376.2V378.9M742.6 369.9V375.2M743.3 375.9V391.2M744.0 375.9V382.6M744.6 375.2V385.1M745.3 380.6V388.6" stroke="#fff" stroke-width="1.1" fill="none"/><polyline points="615.2,500.7 616.9,475.1 619.5,451.2 621.2,422.2 622.1,401.0 623.8,368.5 624.6,449.5 626.3,410.2 627.2,389.9 628.9,437.6 629.7,417.1 631.5,466.6 632.8,473.4 634.0,434.1 635.7,400.0 636.6,380.5 638.3,399.2 640.0,361.7 641.4,385.6 643.1,359.1 645.1,395.8 646.8,370.2 648.5,399.2 650.2,375.4 651.6,390.7 653.6,346.3 655.4,370.2 657.4,349.7 658.8,320.7 660.1,312.2 662.2,303.7 663.5,324.1 664.9,346.3 666.4,322.4 668.2,341.2 669.9,365.1 671.6,342.9 673.3,375.4 674.5,354.9 676.2,402.7 677.5,365.1 679.2,409.5 680.5,401.0 681.3,462.4 682.8,522.4 684.5,433.4 685.4,477.8 687.9,421.5 689.6,455.6 691.4,500.2 693.0,462.4 695.6,440.2 698.2,428.3 699.9,406.1 702.4,384.8 704.1,409.5 705.8,433.4 706.7,464.1 708.4,441.9 710.1,418.0 711.8,445.4 712.7,424.9 714.4,462.4 716.3,498.5 717.8,469.2 719.5,482.9 721.2,438.5 723.3,460.7 724.6,448.8 726.3,471.0 728.0,445.4 728.9,409.5 730.6,428.3 732.3,411.2 734.0,421.5 735.7,441.1 737.4,418.0 739.1,424.9 740.0,394.1 741.7,380.5 742.6,370.2 743.4,383.9 745.1,378.8 745.5,390.7" fill="none" stroke="#fff" stroke-width="1.9" stroke-linejoin="round" opacity="0.9"/><rect x="385.5" y="326.3" width="995.5" height="1" fill="#b8a800"/><path d="M65.4 301.6 L74.7 314.20000000000005 L69.9 314.20000000000005 L69.9 320.20000000000005 L60.900000000000006 320.20000000000005 L60.900000000000006 314.20000000000005 L56.10000000000001 314.20000000000005 Z" fill="#3c9a68"/><path d="M65.4 380.7 L74.7 393.3 L69.9 393.3 L69.9 399.3 L60.900000000000006 399.3 L60.900000000000006 393.3 L56.10000000000001 393.3 Z" fill="#3c9a68"/><rect x="1381" y="44" width="1" height="721" fill="#6a6a6a"/><rect x="7" y="764" width="1375" height="1" fill="#6a6a6a"/><rect x="1382" y="729.5" width="3" height="1" fill="#7a7a7a"/><text x="1388" y="734.5" font-size="11" font-family="Liberation Sans, Arial, sans-serif" fill="#cfcfcf">2000.0</text><rect x="1382" y="682.5" width="3" height="1" fill="#7a7a7a"/><text x="1388" y="686.7" font-size="11" font-family="Liberation Sans, Arial, sans-serif" fill="#cfcfcf">4000.0</text><rect x="1382" y="634.5" width="3" height="1" fill="#7a7a7a"/><text x="1388" y="638.9" font-size="11" font-family="Liberation Sans, Arial, sans-serif" fill="#cfcfcf">6000.0</text><rect x="1382" y="586.5" width="3" height="1" fill="#7a7a7a"/><text x="1388" y="591.2" font-size="11" font-family="Liberation Sans, Arial, sans-serif" fill="#cfcfcf">8000.0</text><rect x="1382" y="538.5" width="3" height="1" fill="#7a7a7a"/><text x="1388" y="543.4" font-size="11" font-family="Liberation Sans, Arial, sans-serif" fill="#cfcfcf">10000.0</text><rect x="1382" y="491.5" width="3" height="1" fill="#7a7a7a"/><text x="1388" y="495.6" font-size="11" font-family="Liberation Sans, Arial, sans-serif" fill="#cfcfcf">12000.0</text><rect x="1382" y="443.5" width="3" height="1" fill="#7a7a7a"/><text x="1388" y="447.9" font-size="11" font-family="Liberation Sans, Arial, sans-serif" fill="#cfcfcf">14000.0</text><rect x="1382" y="395.5" width="3" height="1" fill="#7a7a7a"/><text x="1388" y="400.1" font-size="11" font-family="Liberation Sans, Arial, sans-serif" fill="#cfcfcf">16000.0</text><rect x="1382" y="347.5" width="3" height="1" fill="#7a7a7a"/><text x="1388" y="352.3" font-size="11" font-family="Liberation Sans, Arial, sans-serif" fill="#cfcfcf">18000.0</text><rect x="1382" y="300.5" width="3" height="1" fill="#7a7a7a"/><text x="1388" y="304.6" font-size="11" font-family="Liberation Sans, Arial, sans-serif" fill="#cfcfcf">20000.0</text><rect x="1382" y="252.5" width="3" height="1" fill="#7a7a7a"/><text x="1388" y="256.8" font-size="11" font-family="Liberation Sans, Arial, sans-serif" fill="#cfcfcf">22000.0</text><rect x="1382" y="204.5" width="3" height="1" fill="#7a7a7a"/><text x="1388" y="209.0" font-size="11" font-family="Liberation Sans, Arial, sans-serif" fill="#cfcfcf">24000.0</text><rect x="1382" y="156.5" width="3" height="1" fill="#7a7a7a"/><text x="1388" y="161.2" font-size="11" font-family="Liberation Sans, Arial, sans-serif" fill="#cfcfcf">26000.0</text><rect x="1382" y="108.5" width="3" height="1" fill="#7a7a7a"/><text x="1388" y="113.5" font-size="11" font-family="Liberation Sans, Arial, sans-serif" fill="#cfcfcf">28000.0</text><rect x="1382" y="61.5" width="3" height="1" fill="#7a7a7a"/><text x="1388" y="65.7" font-size="11" font-family="Liberation Sans, Arial, sans-serif" fill="#cfcfcf">30000.0</text><rect x="1381.5" y="372" width="51.0" height="16" fill="#ffffff"/><rect x="1382" y="379.5" width="4" height="1" fill="#333"/><text x="1388" y="384" font-size="11" font-family="Liberation Sans, Arial, sans-serif" fill="#333">16644.0</text><rect x="1381.5" y="317" width="51.0" height="16" fill="#ff0000"/><rect x="1382" y="324.5" width="4" height="1" fill="#ffffff"/><text x="1388" y="329" font-size="11" font-family="Liberation Sans, Arial, sans-serif" fill="#ffffff">18960.9</text><rect x="1381.5" y="398" width="51.0" height="16" fill="#ff0000"/><rect x="1382" y="405.5" width="4" height="1" fill="#ffffff"/><text x="1388" y="410" font-size="11" font-family="Liberation Sans, Arial, sans-serif" fill="#ffffff">15591.0</text><rect x="1381.5" y="465" width="51.0" height="16" fill="#ff0000"/><rect x="1382" y="472.5" width="4" height="1" fill="#ffffff"/><text x="1388" y="477" font-size="11" font-family="Liberation Sans, Arial, sans-serif" fill="#ffffff">12750.7</text><rect x="1381.5" y="651.5" width="45.0" height="16" fill="#ff0000"/><rect x="1382" y="659.0" width="4" height="1" fill="#ffffff"/><text x="1388" y="663.5" font-size="11" font-family="Liberation Sans, Arial, sans-serif" fill="#ffffff">4961.9</text><rect x="1381.5" y="673" width="45.0" height="16" fill="#ff0000"/><rect x="1382" y="680.5" width="4" height="1" fill="#ffffff"/><text x="1388" y="685" font-size="11" font-family="Liberation Sans, Arial, sans-serif" fill="#ffffff">4089.3</text><rect x="91.5" y="765" width="1" height="3.5" fill="#8c8c8c"/><text x="92" y="779" text-anchor="middle" font-size="11" font-family="Liberation Sans, Arial, sans-serif" fill="#d4d4d4">Aug</text><rect x="219.8" y="765" width="1" height="3.5" fill="#8c8c8c"/><text x="220.3" y="779" text-anchor="middle" font-size="11" font-family="Liberation Sans, Arial, sans-serif" fill="#d4d4d4">Sep</text><rect x="342.5" y="765" width="1" height="3.5" fill="#8c8c8c"/><text x="343" y="779" text-anchor="middle" font-size="11" font-family="Liberation Sans, Arial, sans-serif" fill="#d4d4d4">Oct</text><rect x="471.1" y="765" width="1" height="3.5" fill="#8c8c8c"/><text x="471.6" y="779" text-anchor="middle" font-size="11" font-family="Liberation Sans, Arial, sans-serif" fill="#d4d4d4">Nov</text><rect x="593.6" y="765" width="1" height="3.5" fill="#8c8c8c"/><text x="594.1" y="779" text-anchor="middle" font-size="11" font-family="Liberation Sans, Arial, sans-serif" fill="#d4d4d4">Dec</text><rect x="721.5" y="765" width="1" height="3.5" fill="#8c8c8c"/><text x="722" y="779" text-anchor="middle" font-size="11" font-family="Liberation Sans, Arial, sans-serif" font-weight="bold" fill="#d4d4d4">2018</text><rect x="848.5" y="765" width="1" height="3.5" fill="#8c8c8c"/><text x="849" y="779" text-anchor="middle" font-size="11" font-family="Liberation Sans, Arial, sans-serif" fill="#d4d4d4">Feb</text><rect x="963.3" y="765" width="1" height="3.5" fill="#8c8c8c"/><text x="963.8" y="779" text-anchor="middle" font-size="11" font-family="Liberation Sans, Arial, sans-serif" fill="#d4d4d4">Mar</text><rect x="1066.5" y="765" width="1" height="3.5" fill="#8c8c8c"/><text x="1067" y="779" text-anchor="middle" font-size="11" font-family="Liberation Sans, Arial, sans-serif" fill="#d4d4d4">26</text><text y="64.9" font-size="12.3" font-family="Liberation Sans, Arial, sans-serif" xml:space="preserve" stroke="#dedede" stroke-width="0.25"><tspan x="15.3" fill="#dedede" textLength="43.3" lengthAdjust="spacingAndGlyphs">Bitcoin </tspan><tspan x="59.0" fill="#dedede" textLength="7.0" lengthAdjust="spacingAndGlyphs">/ </tspan><tspan x="68.2" fill="#dedede" textLength="41.8" lengthAdjust="spacingAndGlyphs">Dollar, </tspan><tspan x="110.3" fill="#dedede" textLength="27.1" lengthAdjust="spacingAndGlyphs">240, </tspan><tspan x="138.4" fill="#dedede" textLength="51.9" lengthAdjust="spacingAndGlyphs">BITFINEX</tspan></text><text x="49.0" y="697.3" text-anchor="middle" font-size="20" font-family="Liberation Sans, Arial, sans-serif" fill="#fff050" letter-spacing="0.8" stroke="#fff050" stroke-width="0.25">(1)</text><text x="67.80000000000001" y="744.5" text-anchor="middle" font-size="20" font-family="Liberation Sans, Arial, sans-serif" fill="#fff050" letter-spacing="0.8" stroke="#fff050" stroke-width="0.25">(2)</text><text x="162.0" y="663.6" text-anchor="middle" font-size="20" font-family="Liberation Sans, Arial, sans-serif" fill="#fff050" letter-spacing="0.8" stroke="#fff050" stroke-width="0.25">(3)</text><text x="178.8" y="715.4" text-anchor="middle" font-size="20" font-family="Liberation Sans, Arial, sans-serif" fill="#fff050" letter-spacing="0.8" stroke="#fff050" stroke-width="0.25">(4)</text><text x="225.8" y="651.3" text-anchor="middle" font-size="20" font-family="Liberation Sans, Arial, sans-serif" fill="#fff050" letter-spacing="0.8" stroke="#fff050" stroke-width="0.25">(5)</text><text x="485.9" y="589.4" text-anchor="middle" font-size="20" font-family="Liberation Sans, Arial, sans-serif" fill="#fff050" letter-spacing="0.8" stroke="#fff050" stroke-width="0.25">(1)</text><text x="518.6" y="673.5" text-anchor="middle" font-size="20" font-family="Liberation Sans, Arial, sans-serif" fill="#fff050" letter-spacing="0.8" stroke="#fff050" stroke-width="0.25">(2)</text><text x="662.9" y="272" text-anchor="middle" font-size="20" font-family="Liberation Sans, Arial, sans-serif" fill="#fff050" letter-spacing="0.8" stroke="#fff050" stroke-width="0.25">(3)</text><text x="1203.9" y="98.6" text-anchor="middle" font-size="20" font-family="Liberation Sans, Arial, sans-serif" fill="#fff050" letter-spacing="0.8" stroke="#fff050" stroke-width="0.25">(5)</text><text x="522.9" y="610.9000000000001" text-anchor="middle" font-size="20.3" font-family="Liberation Sans, Arial, sans-serif" fill="#3cf058" stroke="#3cf058" stroke-width="0.15">1</text><text x="534" y="647.7" text-anchor="middle" font-size="20.3" font-family="Liberation Sans, Arial, sans-serif" fill="#3cf058" stroke="#3cf058" stroke-width="0.15">2</text><text x="621" y="365.0" text-anchor="middle" font-size="20.3" font-family="Liberation Sans, Arial, sans-serif" fill="#3cf058" stroke="#3cf058" stroke-width="0.15">3</text><text x="633" y="492.0" text-anchor="middle" font-size="20.3" font-family="Liberation Sans, Arial, sans-serif" fill="#3cf058" stroke="#3cf058" stroke-width="0.15">4</text><text x="662" y="294.8" text-anchor="middle" font-size="20.3" font-family="Liberation Sans, Arial, sans-serif" fill="#3cf058" stroke="#3cf058" stroke-width="0.15">5</text><text x="223.1" y="601.3" text-anchor="middle" font-size="24" font-family="DejaVu Sans Mono, monospace" font-weight="bold" fill="#00ff00" letter-spacing="-1" stroke="#00ff00" stroke-width="0.7">I</text><text x="270.8" y="728.6" text-anchor="middle" font-size="24" font-family="DejaVu Sans Mono, monospace" font-weight="bold" fill="#00ff00" letter-spacing="-1" stroke="#00ff00" stroke-width="0.7">II</text><text x="1202.3" y="82.7" text-anchor="middle" font-size="24" font-family="DejaVu Sans Mono, monospace" font-weight="bold" fill="#00ff00" letter-spacing="-1" stroke="#00ff00" stroke-width="0.7">III</text><text x="30.2" y="760" text-anchor="middle" font-size="24.5" font-family="Liberation Sans, Arial, sans-serif" font-weight="bold" fill="#ee44ee">IV</text><text x="224.3" y="630.7" text-anchor="middle" font-size="24.5" font-family="Liberation Sans, Arial, sans-serif" font-weight="bold" fill="#ee44ee">V</text><rect x="7" y="497.92" width="1374" height="1.8" fill="rgba(255,246,0,0.56)"/><rect x="7" y="508.88" width="1374" height="1.8" fill="rgba(255,0,0,0.565)"/><rect x="7" y="526.62" width="1374" height="1.8" fill="rgba(255,255,255,0.55)"/><rect x="7" y="555.32" width="1374" height="1.8" fill="rgba(0,255,0,0.58)"/><rect x="7" y="573.05" width="1374" height="1.8" fill="rgba(255,246,0,0.56)"/><rect x="7" y="584.02" width="1374" height="1.8" fill="rgba(255,0,0,0.565)"/><rect x="7" y="601.75" width="1374" height="1.8" fill="rgba(255,255,255,0.55)"/><rect x="7" y="630.45" width="1374" height="1.8" fill="rgba(255,255,255,0.55)"/><rect x="7" y="648.18" width="1374" height="1.8" fill="rgba(255,241,0,0.64)"/><rect x="385.5" y="297.18" width="995.5" height="1.8" fill="#3590d0"/><rect x="385.5" y="341.64" width="995.5" height="1.8" fill="rgba(255,0,0,0.70)"/><rect x="385.5" y="369.11" width="995.5" height="1.8" fill="#ffffff"/><rect x="385.5" y="386.10" width="995.5" height="1.8" fill="#ffffff"/><rect x="385.5" y="413.56" width="995.5" height="1.8" fill="#00f000"/><rect x="385.5" y="441.03" width="995.5" height="1.8" fill="rgba(255,241,0,0.64)"/><rect x="385.5" y="458.02" width="995.5" height="1.8" fill="rgba(255,0,0,0.70)"/><rect x="385.5" y="485.48" width="995.5" height="1.8" fill="#ffffff"/><text x="681" y="540" text-anchor="middle" font-size="22.5" font-family="DejaVu Sans, Verdana, sans-serif" font-weight="bold" fill="#f05050">a</text><text x="772" y="340.8" text-anchor="middle" font-size="22.5" font-family="DejaVu Sans, Verdana, sans-serif" font-weight="bold" fill="#f05050">b</text><text x="955.4" y="602.9" text-anchor="middle" font-size="22.5" font-family="DejaVu Sans, Verdana, sans-serif" font-weight="bold" fill="#f05050">c</text><text x="670.3000000000001" y="556.9" text-anchor="middle" font-size="22" font-family="Liberation Sans, Arial, sans-serif" fill="#fff050" letter-spacing="1.2" stroke="#fff050" stroke-width="0.25">alt.(4)</text><text x="954.9" y="619.1" text-anchor="middle" font-size="20" font-family="Liberation Sans, Arial, sans-serif" fill="#fff050" letter-spacing="0.8" stroke="#fff050" stroke-width="0.25">(4)</text><text x="1376.2" y="320.8" text-anchor="end" font-size="14.4" font-family="DejaVu Sans, Verdana, sans-serif" font-weight="bold" fill="#ff0000">$18937</text><text x="1376.2" y="402.4" text-anchor="end" font-size="14.4" font-family="DejaVu Sans, Verdana, sans-serif" font-weight="bold" fill="#ff0000">$15591</text><text x="1376.2" y="469.4" text-anchor="end" font-size="14.4" font-family="DejaVu Sans, Verdana, sans-serif" font-weight="bold" fill="#ff0000">$12750</text><text x="1376" y="672.8" text-anchor="end" font-size="14" font-family="DejaVu Sans, Verdana, sans-serif" fill="#ff0000">$4961</text><text x="1376" y="694.3" text-anchor="end" font-size="14" font-family="DejaVu Sans, Verdana, sans-serif" fill="#ff0000">$2950</text><text y="15.7" font-size="12" font-family="Liberation Sans, Arial, sans-serif" xml:space="preserve"><tspan x="6.5" fill="#3bb3e4" font-weight="bold" textLength="172.8" lengthAdjust="spacing">Hopf-Klinkmueller-Cap-Mgmt </tspan><tspan x="180.5" fill="#000" textLength="54.8" lengthAdjust="spacingAndGlyphs">published </tspan><tspan x="236.8" fill="#000" textLength="16.1" lengthAdjust="spacingAndGlyphs">on </tspan><tspan x="253.3" fill="#000" textLength="105.1" lengthAdjust="spacingAndGlyphs">TradingView.com, </tspan><tspan x="358.9" fill="#000" textLength="45.8" lengthAdjust="spacingAndGlyphs">January </tspan><tspan x="405.2" fill="#000" textLength="19.5" lengthAdjust="spacingAndGlyphs">06, </tspan><tspan x="426.9" fill="#000" textLength="29.9" lengthAdjust="spacingAndGlyphs">2018 </tspan><tspan x="457.7" fill="#000" textLength="34.6" lengthAdjust="spacingAndGlyphs">15:26 </tspan><tspan x="492.7" fill="#000" textLength="22.6" lengthAdjust="spacingAndGlyphs">UTC</tspan></text><path d="M192.3 26.2 L202.3 26.2 L197.3 35.6 Z" fill="#8e0000"/><text y="34" font-size="12" font-family="Liberation Sans, Arial, sans-serif" xml:space="preserve"><tspan x="6.5" fill="#000" font-weight="bold" textLength="106.8" lengthAdjust="spacingAndGlyphs">BITFINEX:BTCUSD, </tspan><tspan x="118" fill="#000" font-weight="bold" textLength="22.3" lengthAdjust="spacingAndGlyphs">240 </tspan><tspan x="143.5" fill="#000" textLength="48.3" lengthAdjust="spacing">16644.0 </tspan><tspan x="206" fill="#000" textLength="41.3" lengthAdjust="spacing">−267.0 </tspan><tspan x="248.5" fill="#000" textLength="52.8" lengthAdjust="spacing">(−1.58%) </tspan><tspan x="302.4" fill="#000" font-weight="bold" textLength="15.5" lengthAdjust="spacingAndGlyphs">O: </tspan><tspan x="317" fill="#b01c1c" textLength="48.0" lengthAdjust="spacing">16519.0 </tspan><tspan x="366.6" fill="#000" font-weight="bold" textLength="15.0" lengthAdjust="spacingAndGlyphs">H: </tspan><tspan x="380.6" fill="#b01c1c" textLength="48.2" lengthAdjust="spacing">16690.0 </tspan><tspan x="430.8" fill="#000" font-weight="bold" textLength="12.1" lengthAdjust="spacingAndGlyphs">L: </tspan><tspan x="441.9" fill="#b01c1c" textLength="48.2" lengthAdjust="spacing">16251.0 </tspan><tspan x="491.5" fill="#000" font-weight="bold" textLength="13.6" lengthAdjust="spacingAndGlyphs">C: </tspan><tspan x="504.2" fill="#b01c1c" textLength="44.9" lengthAdjust="spacing">16644.0</tspan></text><text x="6.5" y="806.7" font-size="12.5" font-family="Liberation Sans, Arial, sans-serif" fill="#111" textLength="72.5" lengthAdjust="spacing">Created with</text><text x="118.3" y="806.7" font-size="12.5" font-family="Liberation Sans, Arial, sans-serif" fill="#3aa9e2" textLength="70.4" lengthAdjust="spacing">TradingView</text><g transform="translate(88,793.5)"><path d="M5.2 14.5 C2.2 14.5 0 12.6 0 10 C0 7.6 1.8 5.8 4 5.5 C4.6 2.3 7.4 0 10.8 0 C13.6 0 16 1.6 17.1 4 C17.5 3.9 17.9 3.9 18.3 3.9 C21.3 3.9 23.7 6.2 23.7 9.2 C23.7 12.1 21.3 14.5 18.3 14.5 Z" fill="#58c5e9"/><path d="M0.8 11.6 L9.1 5.2 L14.1 12.6 L19.9 4.3" fill="none" stroke="#f0f3f7" stroke-width="1.8"/></g></svg>
</body></html>
